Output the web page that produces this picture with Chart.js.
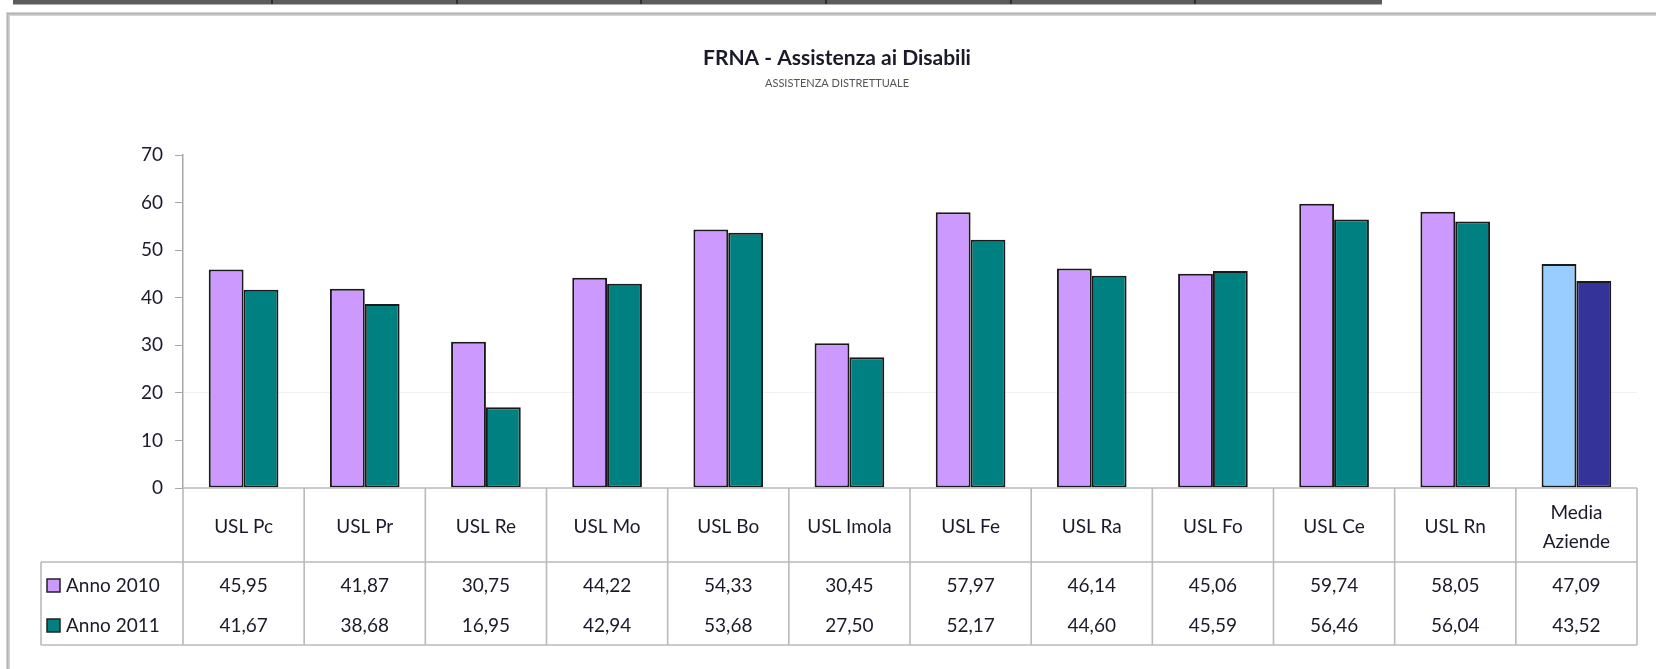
<!DOCTYPE html>
<html>
<head>
<meta charset="utf-8">
<script src="https://cdn.jsdelivr.net/npm/chart.js@4/dist/chart.umd.min.js"></script>
<style>
  html, body { margin: 0; padding: 0; background: #ffffff; }
  #wrap { width: 1656px; height: 669px; }
</style>
</head>
<body>
<div id="wrap"><canvas id="c" width="1656" height="669"></canvas></div>
<script>
// ---- data ----
const chartTitle = "FRNA - Assistenza ai Disabili";
const chartSubtitle = "ASSISTENZA DISTRETTUALE";
const categories = [
  "USL Pc", "USL Pr", "USL Re", "USL Mo", "USL Bo", "USL Imola",
  "USL Fe", "USL Ra", "USL Fo", "USL Ce", "USL Rn", ["Media", "Aziende"]
];
const seriesNames = ["Anno 2010", "Anno 2011"];
const anno2010 = [45.95, 41.87, 30.75, 44.22, 54.33, 30.45, 57.97, 46.14, 45.06, 59.74, 58.05, 47.09];
const anno2011 = [41.67, 38.68, 16.95, 42.94, 53.68, 27.50, 52.17, 44.60, 45.59, 56.46, 56.04, 43.52];
const yTicks = [0, 10, 20, 30, 40, 50, 60, 70];

// ---- styles ----
const FONT = "Lato, 'Open Sans', sans-serif";
const TEXT = "#1a1a2a";
const c2010 = "#CC99FF", c2011 = "#008080";
const cAvg2010 = "#99CCFF", cAvg2011 = "#333399";
const avgIndex = categories.length - 1;
const colors2010 = categories.map((_, i) => i === avgIndex ? cAvg2010 : c2010);
const colors2011 = categories.map((_, i) => i === avgIndex ? cAvg2011 : c2011);
const GRIDC = "#bababa";

const fmt = v => v.toFixed(2).replace(".", ",");

const decorPlugin = {
  id: "decor",
  beforeDraw(chart) {
    const ctx = chart.ctx;
    ctx.save();
    ctx.fillStyle = "#ffffff";
    ctx.fillRect(0, 0, chart.width, chart.height);
    // spreadsheet strip at the top
    ctx.fillStyle = "#5c5c5c";
    ctx.fillRect(13, 0, 1369, 4);
    ctx.fillStyle = "#b0b0b0";
    ctx.fillRect(13, 4, 1369, 1);
    ctx.strokeStyle = "#222";
    ctx.lineWidth = 1.5;
    [272, 457, 641, 826, 1011, 1195].forEach(x => {
      ctx.beginPath(); ctx.moveTo(x, 0); ctx.lineTo(x, 4); ctx.stroke();
    });
    // chart frame
    ctx.fillStyle = "#d4d4d4";
    ctx.fillRect(6, 12, chart.width, 4);
    ctx.fillRect(6, 12, 4, chart.height);
    ctx.fillStyle = "#b4b4b4";
    ctx.fillRect(7, 13, chart.width, 1.5);
    ctx.fillRect(7, 13, 1.5, chart.height);
    // titles
    ctx.fillStyle = TEXT;
    ctx.textAlign = "center";
    ctx.textBaseline = "middle";
    ctx.font = "bold 21px " + FONT;
    ctx.fillText(chartTitle, 837, 58);
    ctx.fillStyle = "#555";
    ctx.font = "11px " + FONT;
    ctx.fillText(chartSubtitle, 837, 83);
    ctx.restore();
  },
  afterDraw(chart) {
    const ctx = chart.ctx;
    const xs = chart.scales.x;
    const area = chart.chartArea;
    const n = categories.length;
    const w = (area.right - area.left) / n;
    const y0 = area.bottom, y1 = 562, y3 = 645;
    const legendLeft = 41;
    ctx.save();
    ctx.strokeStyle = GRIDC;
    ctx.lineWidth = 1.6;
    // horizontal lines
    ctx.beginPath();
    ctx.moveTo(area.left, y0); ctx.lineTo(area.right, y0);
    ctx.moveTo(legendLeft, y1); ctx.lineTo(area.right, y1);
    ctx.moveTo(legendLeft, y3); ctx.lineTo(area.right, y3);
    // vertical lines
    for (let i = 0; i <= n; i++) {
      const x = area.left + i * w;
      ctx.moveTo(x, y0); ctx.lineTo(x, y3);
    }
    ctx.moveTo(legendLeft, y1); ctx.lineTo(legendLeft, y3);
    ctx.stroke();

    // category labels
    ctx.fillStyle = TEXT;
    ctx.textAlign = "center";
    ctx.textBaseline = "middle";
    ctx.font = "19px " + FONT;
    categories.forEach((c, i) => {
      const cx = xs.getPixelForValue(i);
      if (Array.isArray(c)) {
        const lh = 29;
        const start = 527 - (c.length - 1) * lh / 2;
        c.forEach((line, k) => ctx.fillText(line, cx, start + k * lh));
      } else {
        ctx.fillText(c, cx, 527);
      }
    });
    // data rows
    const rows = [
      { name: seriesNames[0], vals: anno2010, color: c2010, y: 586 },
      { name: seriesNames[1], vals: anno2011, color: c2011, y: 626 }
    ];
    rows.forEach(r => {
      r.vals.forEach((v, i) => {
        ctx.fillText(fmt(v), xs.getPixelForValue(i), r.y);
      });
      // legend key
      ctx.fillStyle = r.color;
      ctx.fillRect(47, r.y - 7, 13, 13);
      ctx.strokeStyle = "#222";
      ctx.lineWidth = 1.5;
      ctx.strokeRect(47, r.y - 7, 13, 13);
      ctx.fillStyle = TEXT;
      ctx.textAlign = "left";
      ctx.fillText(r.name, 66, r.y);
      ctx.textAlign = "center";
    });
    ctx.restore();
  }
};

new Chart(document.getElementById("c"), {
  type: "bar",
  data: {
    labels: categories,
    datasets: [
      { label: seriesNames[0], data: anno2010, backgroundColor: colors2010,
        borderColor: "#1a1a1a", borderWidth: 2, borderSkipped: false },
      { label: seriesNames[1], data: anno2011, backgroundColor: colors2011,
        borderColor: "#1a1a1a", borderWidth: 2, borderSkipped: false }
    ]
  },
  options: {
    responsive: false,
    devicePixelRatio: 1,
    animation: false,
    layout: { padding: { left: 0, top: 155, right: 19, bottom: 181 } },
    plugins: {
      legend: { display: false },
      tooltip: { enabled: false },
      title: { display: false }
    },
    datasets: {
      bar: { barPercentage: 1, categoryPercentage: 0.575 }
    },
    scales: {
      x: {
        display: false,
        grid: { display: false }
      },
      y: {
        min: 0,
        max: 70,
        afterFit(scale) { scale.width = 183; },
        afterBuildTicks(scale) { scale.ticks = yTicks.map(v => ({ value: v })); },
        ticks: {
          color: TEXT,
          font: { family: FONT, size: 19 },
          padding: 12
        },
        grid: {
          drawOnChartArea: true,
          tickLength: 8,
          tickColor: "#a8a8a8",
          color: ctx => (ctx.tick && ctx.tick.value === 20) ? "rgba(0,0,0,0.05)" : "rgba(0,0,0,0)"
        },
        border: { display: true, color: "#a8a8a8", width: 1.5 }
      }
    }
  },
  plugins: [decorPlugin]
});
</script>
</body>
</html>
